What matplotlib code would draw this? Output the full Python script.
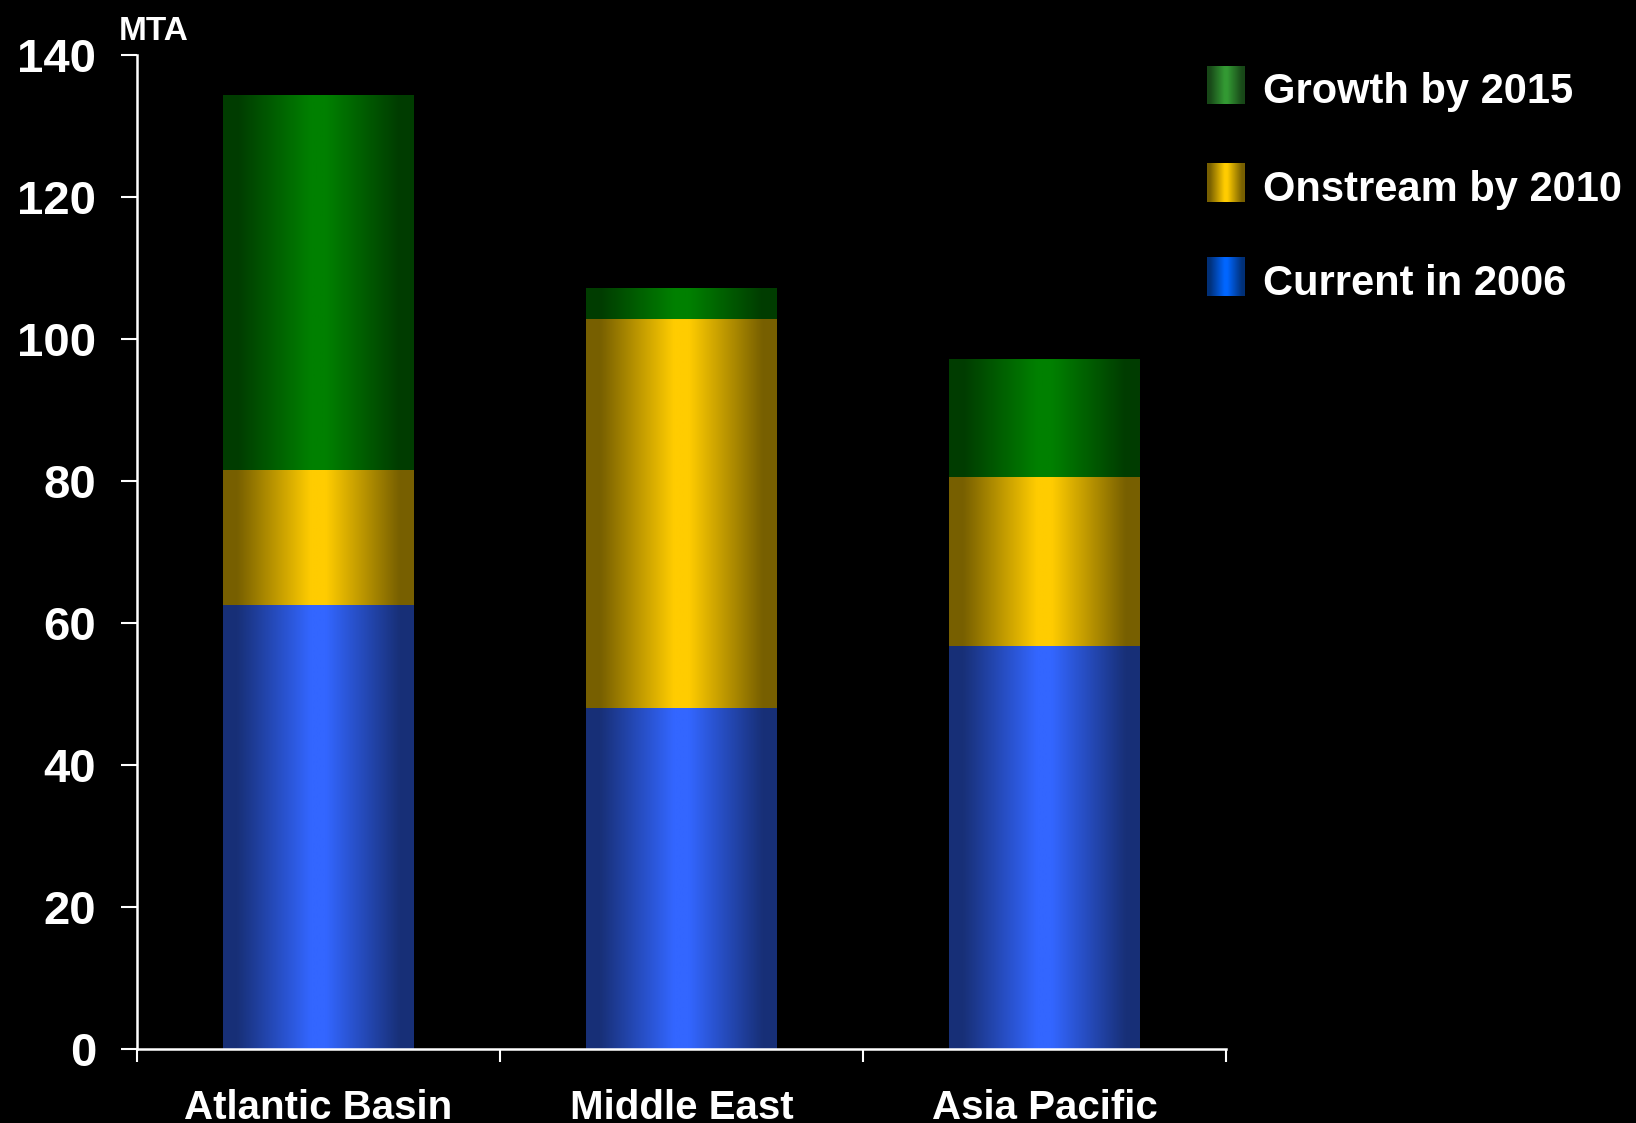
import numpy as np
import matplotlib
matplotlib.use("Agg")
import matplotlib.pyplot as plt
from matplotlib.colors import to_rgb

plt.rcParams['font.family'] = ['Liberation Sans', 'DejaVu Sans']
plt.rcParams['font.weight'] = 'bold'

regions = ["Atlantic Basin", "Middle East", "Asia Pacific"]
current_2006 = [62.6, 48.0, 56.8]
onstream_2010 = [19.0, 54.8, 23.8]
growth_2015 = [52.7, 4.4, 16.6]

series = [
    ("Current in 2006", current_2006, "#3366FF", "#0066FF"),
    ("Onstream by 2010", onstream_2010, "#FFCC00", "#FFCC00"),
    ("Growth by 2015", growth_2015, "#008000", "#339933"),
]


def gradient(color, n=256):
    # dark edges, bright middle, like a lit cylinder
    u = np.linspace(0, 1, n)
    t = np.abs(u - 0.5) * 2
    s = np.clip((t - 0.08) / (0.85 - 0.08), 0, 1)
    f = 1 - 0.53 * s
    rgb = np.array(to_rgb(color))
    return (f[:, None] * rgb[None, :])[None, :, :]


fig = plt.figure(figsize=(16.36, 11.23), dpi=100, facecolor="black")
ax = fig.add_axes([137 / 1636, 1 - 1049 / 1123, (1226 - 137) / 1636, (1049 - 55) / 1123])
ax.set_facecolor("black")

x = np.arange(len(regions)) + 0.5
bottom = np.zeros(len(regions))
for name, vals, col, _ in series:
    bars = ax.bar(x, vals, width=0.526, bottom=bottom, facecolor="none",
                  edgecolor="none", zorder=2)
    for p in bars.patches:
        x0, y0 = p.get_x(), p.get_y()
        im = ax.imshow(gradient(col), extent=[x0, x0 + p.get_width(), y0, y0 + p.get_height()],
                       aspect="auto", interpolation="bilinear", zorder=2)
        im.set_clip_path(p)
    bottom = bottom + np.array(vals)

ax.set_xlim(0, 3)
ax.set_ylim(0, 140)
ax.set_yticks(range(0, 141, 20))
ax.set_xticks([0, 1, 2, 3])
ax.set_xticklabels([])
ax.set_xticks(x, minor=True)
ax.set_xticklabels(regions, minor=True)
ax.tick_params(axis="x", which="major", length=9, width=1.5, color="white", direction="out")
ax.tick_params(axis="x", which="minor", length=0, pad=29, labelsize=29, labelcolor="white")
ax.tick_params(axis="y", length=11.5, width=1.5, color="white", pad=18, labelsize=34,
               labelcolor="white")
for lab in ax.get_yticklabels() + ax.get_xticklabels(minor=True):
    lab.set_fontweight("bold")

for side in ["top", "right"]:
    ax.spines[side].set_visible(False)
for side in ["left", "bottom"]:
    ax.spines[side].set_color("white")
    ax.spines[side].set_linewidth(1.8)

fig.text(119 / 1636, 1 - 40 / 1123, "MTA", color="white", fontsize=24,
         fontweight="bold", ha="left", va="baseline")

# legend, top to bottom
legend_rows = [(66, 104), (163, 202), (257, 296)]
for (name, vals, col, lcol), (ytop, ybot) in zip(series[::-1], legend_rows):
    lax = fig.add_axes([1207 / 1636, 1 - ybot / 1123, 38 / 1636, (ybot - ytop) / 1123])
    lax.imshow(gradient(lcol), aspect="auto", interpolation="bilinear")
    lax.axis("off")
    fig.text(1263 / 1636, 1 - (ybot - 1) / 1123, name, color="white", fontsize=30,
             fontweight="bold", ha="left", va="baseline")

fig.savefig("out.png", dpi=100, facecolor="black")
